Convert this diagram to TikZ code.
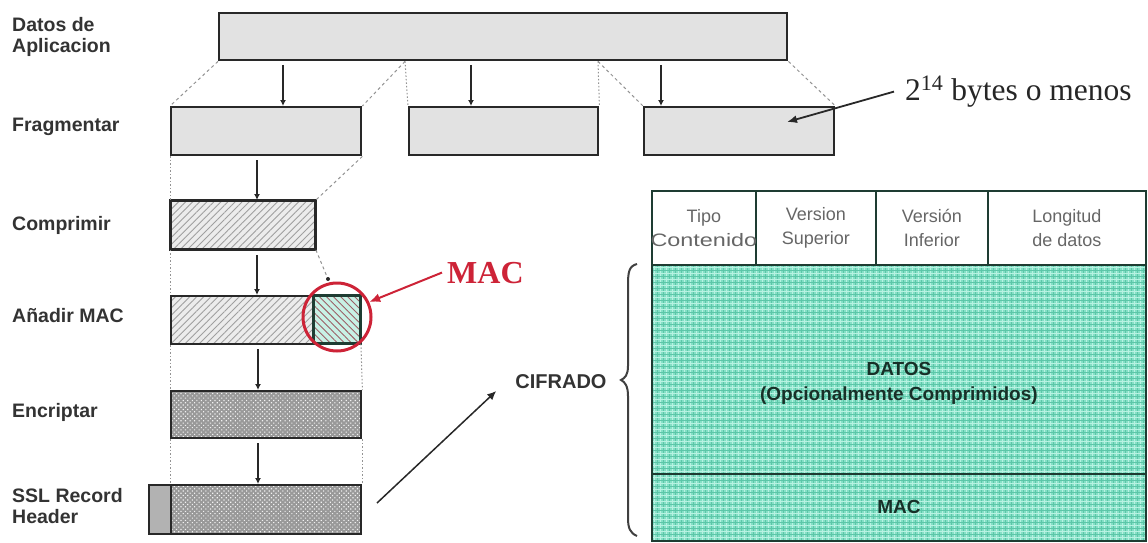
\documentclass[tikz,border=0pt]{standalone}
\usepackage{fontspec}
\setmainfont{Liberation Serif}
\newfontfamily\labfont{Liberation Sans}
\usetikzlibrary{arrows.meta,patterns.meta,calc}
\definecolor{mint}{RGB}{132,224,198}
\definecolor{mintdark}{RGB}{92,198,168}
\definecolor{mintlight}{RGB}{184,242,226}
\definecolor{macred}{RGB}{205,35,55}
\definecolor{boxgray}{RGB}{226,226,226}
\definecolor{edge}{RGB}{40,40,40}
\definecolor{tabedge}{RGB}{30,60,50}
\tikzset{
  basebox/.style={draw=edge, line width=2.4pt, rectangle, inner sep=0pt, anchor=north west},
  box/.style={basebox, fill=boxgray},
  hbox/.style={basebox, preaction={fill=gray!15}, pattern={Lines[angle=45,distance=5pt,line width=0.9pt]}, pattern color=gray!75},
  macbox/.style={basebox, draw=tabedge, preaction={fill=mint!45}, pattern={Lines[angle=-45,distance=5pt,line width=0.9pt]}, pattern color=macred!35!gray},
  ebox/.style={basebox, preaction={fill=gray!80}, pattern={Dots[radius=0.8pt,distance=3.2pt,angle=45]}, pattern color=white!90!gray},
  arr/.style={-{Latex[length=6pt,width=6pt]}, line width=1.2pt, draw=edge},
  dsh/.style={draw=gray!85, line width=1pt, dash pattern=on 3pt off 3pt},
  dot/.style={draw=gray!85, line width=1pt, dash pattern=on 1.5pt off 2pt},
  lab/.style={anchor=west, inner sep=0pt, font={\labfont\bfseries\fontsize{19.5}{21}\selectfont}, text=black!80, align=left},
  cell/.style={draw=tabedge, line width=1.8pt, rectangle, inner sep=0pt, anchor=north west},
  hdr/.style={font={\labfont\fontsize{18}{24}\selectfont}, text=black!60, align=center, inner sep=0pt},
  tabtxt/.style={font={\labfont\bfseries\fontsize{19}{25}\selectfont}, text=tabedge!80!black, align=center, inner sep=0pt}
}
\begin{document}
\begin{tikzpicture}[x=1pt,y=-1pt]
\useasboundingbox (0,0) rectangle (1148,543);
% left labels
\node[lab] (l1) at (12,37) {Datos de\\Aplicacion};
\node[lab] (l2) at (12,127) {Fragmentar};
\node[lab] (l3) at (12,225) {Comprimir};
\node[lab] (l4) at (12,316) {Añadir MAC};
\node[lab] (l5) at (12,412) {Encriptar};
\node[lab] (l6) at (12,506) {SSL Record\\Header};
% boxes
\node[box, minimum width=568pt, minimum height=47pt] (top) at (218,12) {};
\node[box, minimum width=190pt, minimum height=48pt] (f1) at (170,106) {};
\node[box, minimum width=189pt, minimum height=48pt] (f2) at (408,106) {};
\node[box, minimum width=190pt, minimum height=48pt] (f3) at (643,106) {};
\node[hbox, minimum width=145pt, minimum height=49pt] (comp) at (170,200) {};
\node[hbox, minimum width=143pt, minimum height=48pt] (mac) at (170,295) {};
\node[macbox, minimum width=47pt, minimum height=48pt] (macs) at (313,295) {};
\node[ebox, minimum width=190pt, minimum height=47pt] (enc) at (170,390) {};
\node[ebox, minimum width=190pt, minimum height=49pt] (ssl) at (170,484) {};
\node[box, fill=gray!60, minimum width=22pt, minimum height=49pt] (sslh) at (148,484) {};
% split coordinates on top box
\coordinate (s1) at ($(top.south west)+(187,0)$);
\coordinate (s2) at ($(top.south west)+(380,0)$);
% dashed / dotted guides
\draw[dsh] (top.south west) -- (f1.north west);
\draw[dsh] (s1) -- (f1.north east);
\draw[dot] (s1) -- (f2.north west);
\draw[dot] (s2) -- (f2.north east);
\draw[dsh] (s2) -- (f3.north west);
\draw[dsh] (top.south east) -- (f3.north east);
\draw[dot] (f1.south west) -- (comp.north west);
\draw[dsh] (f1.south east) -- (comp.north east);
\draw[dot] (comp.south west) -- (mac.north west);
\coordinate (macdot) at (328,279);
\draw[dsh] (comp.south east) -- (macdot);
\fill[edge] (macdot) circle (2pt);
\draw[dot] (mac.south west) -- (enc.north west);
\draw[dot] (macs.south east) -- (enc.north east);
\draw[dot] (enc.south west) -- (ssl.north west);
\draw[dot] (enc.south east) -- (ssl.north east);
% vertical arrows
\draw[arr] ($(f1.north west)+(113,-41)$) -- ($(f1.north west)+(113,0)$);
\draw[arr] ($(f2.north west)+(63,-41)$) -- ($(f2.north west)+(63,0)$);
\draw[arr] ($(f3.north west)+(18,-41)$) -- ($(f3.north west)+(18,0)$);
\draw[arr] ($(comp.north west)+(87,-40)$) -- ($(comp.north west)+(87,0)$);
\draw[arr] ($(mac.north west)+(87,-40)$) -- ($(mac.north west)+(87,0)$);
\draw[arr] ($(enc.north west)+(88,-41)$) -- ($(enc.north west)+(88,0)$);
\draw[arr] ($(ssl.north west)+(88,-41)$) -- ($(ssl.north west)+(88,0)$);
% 2^14 annotation
\node[anchor=base west, inner sep=0pt, font=\fontsize{31.5}{31}\selectfont, text=black!85] (t14) at (905,100) {2\textsuperscript{14} bytes o menos};
\draw[-{Latex[length=10pt,width=8pt]}, line width=1.8pt, draw=edge] ([xshift=-11pt]t14.west) -- ($(f3.north west)+(144,16)$);
% red MAC highlight
\node[circle, draw=macred, line width=3pt, minimum size=68pt, inner sep=0pt] (ring) at (337,317) {};
\node[anchor=base west, inner sep=0pt, font=\bfseries\fontsize{32}{32}\selectfont, text=macred] (mactxt) at (447,283) {MAC};
\draw[-{Latex[length=11pt,width=9pt]}, line width=2pt, draw=macred] ([xshift=-5pt]mactxt.west) -- (ring.25);
% CIFRADO
\node[font={\labfont\bfseries\fontsize{20}{20}\selectfont}, text=black!80, inner sep=0pt] (cif) at (561,382) {CIFRADO};
\coordinate (d0) at (377,503);
\draw[-{Latex[length=9pt,width=8pt]}, line width=1.5pt, draw=edge] (d0) -- ($(cif.west)+(-19,9)$);
% brace
\draw[line width=2pt, draw=black!75] (637,264) .. controls (629,266) and (628,272) .. (628,285) -- (628,366)
  .. controls (628,375) and (625,378) .. (621,380) .. controls (625,382) and (628,386) .. (628,396) -- (628,518)
  .. controls (628,528) and (630,533) .. (637,536);
% green body with grid texture
\begin{scope}
\clip (651,264) rectangle (1145,540);
\fill[mint] (651,264) rectangle (1145,540);
\foreach \i in {0,...,83} {
  \draw[mintdark, line width=0.9pt] (651+6*\i,264) -- (651+6*\i,540);
  \draw[mintlight, line width=0.8pt] (654+6*\i,264) -- (654+6*\i,540);
}
\foreach \j in {0,...,46} {
  \draw[mintdark, line width=0.9pt] (651,264+6*\j) -- (1145,264+6*\j);
  \draw[mintlight, line width=0.8pt] (651,267+6*\j) -- (1145,267+6*\j);
}
\end{scope}
% table cells
\node[cell, minimum width=104pt, minimum height=74pt] (h1) at (651,190) {};
\node[cell, minimum width=120pt, minimum height=74pt] (h2) at (755,190) {};
\node[cell, minimum width=112pt, minimum height=74pt] (h3) at (875,190) {};
\node[cell, minimum width=158pt, minimum height=74pt] (h4) at (987,190) {};
\node[cell, minimum width=494pt, minimum height=209pt] (datos) at (651,264) {};
\node[cell, minimum width=494pt, minimum height=67pt] (macrow) at (651,473) {};
\begin{scope}
\clip (h1.north west) rectangle (h1.south east);
\node[hdr] (t1) at (h1.center) {Tipo\\\scalebox{1.3}[1]{Contenido}};
\end{scope}
\node[hdr] (t2) at (h2.center) {Version\\Superior};
\node[hdr] (t3) at (h3.center) {Versión\\Inferior};
\node[hdr] (t4) at (h4.center) {Longitud\\de datos};
\node[tabtxt] (dt) at ($(datos.center)+(0,14)$) {DATOS\\(Opcionalmente Comprimidos)};
\node[tabtxt] (mt) at (macrow.center) {MAC};
\end{tikzpicture}
\end{document}
